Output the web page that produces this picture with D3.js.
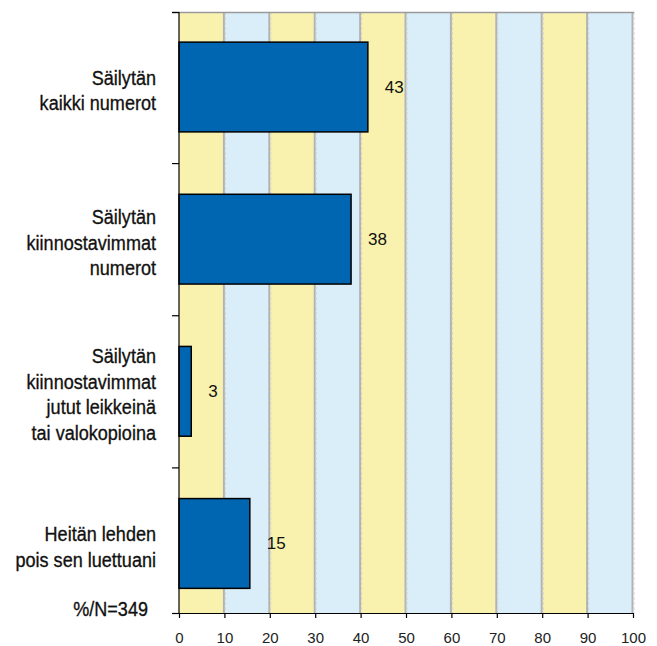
<!DOCTYPE html>
<html>
<head>
<meta charset="utf-8">
<script src="https://cdn.jsdelivr.net/npm/d3@7"></script>
<style>
  html, body { margin: 0; padding: 0; background: #fff; }
  svg { display: block; }
</style>
</head>
<body>
<svg id="chart" width="657" height="646"></svg>
<script>
// ---- data ----
const categories = [
  ["Säilytän", "kaikki numerot"],
  ["Säilytän", "kiinnostavimmat", "numerot"],
  ["Säilytän", "kiinnostavimmat", "jutut leikkeinä", "tai valokopioina"],
  ["Heitän lehden", "pois sen luettuani"]
];
const values = [41.6, 37.9, 2.7, 15.6];
const valueLabels = ["43", "38", "3", "15"];
const xTicks = [0, 10, 20, 30, 40, 50, 60, 70, 80, 90, 100];
const note = "%/N=349";

// ---- layout ----
(function () {
const svg = d3.select("#chart");
const mLeft = 179, mRight = 633, mTop = 12, mBottom = 613;
const x = d3.scaleLinear().domain([0, 100]).range([mLeft, mRight]);
const y = d3.scaleBand().domain(d3.range(categories.length))
  .range([mTop, mBottom]).paddingInner(0.41).paddingOuter(0.18).align(0.55);

const bandColors = ["#f9f2ae", "#d9eef9"];
const g = svg.append("g");

// alternating vertical bands
const bands = d3.range(xTicks.length - 1);
g.selectAll("rect.band").data(bands).enter().append("rect")
  .attr("x", i => x(xTicks[i]))
  .attr("y", mTop)
  .attr("width", i => x(xTicks[i + 1]) - x(xTicks[i]))
  .attr("height", mBottom - mTop)
  .attr("fill", i => bandColors[i % 2]);

// grid lines: solid gray + dashed light line
const gridTicks = xTicks.slice(1);
g.selectAll("line.grid").data(gridTicks).enter().append("line")
  .attr("x1", d => x(d) - 0.5).attr("x2", d => x(d) - 0.5)
  .attr("y1", mTop).attr("y2", mBottom)
  .attr("stroke", "#b3b3b3").attr("stroke-width", 2);
g.selectAll("line.grid2").data(gridTicks).enter().append("line")
  .attr("x1", d => x(d) + 1).attr("x2", d => x(d) + 1)
  .attr("y1", mTop).attr("y2", mBottom)
  .attr("stroke", "#d4d4d4").attr("stroke-width", 1)
  .attr("stroke-dasharray", "3,2");

// top border
g.append("line")
  .attr("x1", mLeft - 7).attr("x2", mRight + 1)
  .attr("y1", mTop + 0.5).attr("y2", mTop + 0.5)
  .attr("stroke", "#9a9a9a").attr("stroke-width", 1.5);

// bars
g.selectAll("rect.bar").data(values).enter().append("rect")
  .attr("x", x(0))
  .attr("y", (d, i) => y(i))
  .attr("width", d => x(d) - x(0))
  .attr("height", y.bandwidth())
  .attr("fill", "#0066b2")
  .attr("stroke", "#000").attr("stroke-width", 1.5);

// value labels
g.selectAll("text.val").data(values).enter().append("text")
  .attr("x", d => x(d) + 17)
  .attr("y", (d, i) => y(i) + y.bandwidth() / 2)
  .attr("dy", "0.35em")
  .attr("font-family", "Liberation Sans, Arial, sans-serif")
  .attr("font-size", 17)
  .attr("fill", "#111")
  .text((d, i) => valueLabels[i]);

// x axis
const xAxis = d3.axisBottom(x).tickValues(xTicks).tickSize(5).tickPadding(14).tickSizeOuter(0);
const ax = svg.append("g").attr("transform", `translate(0,${mBottom})`).call(xAxis);
ax.select(".domain").attr("stroke", "#000").attr("stroke-width", 1.2)
  .attr("d", `M${mLeft - 7},0.5H${mRight + 1}`);
ax.selectAll(".tick line").attr("stroke", "#000").attr("stroke-width", 1.2);
ax.selectAll(".tick text").attr("font-family", "Liberation Sans, Arial, sans-serif")
  .attr("font-size", 15).attr("fill", "#222");

// y axis line with boundary ticks
const yBound = [mTop].concat(d3.range(1, categories.length)
  .map(i => (y(i - 1) + y.bandwidth() + y(i)) / 2)).concat([mBottom]);
svg.append("line")
  .attr("x1", mLeft).attr("x2", mLeft).attr("y1", mTop).attr("y2", mBottom)
  .attr("stroke", "#000").attr("stroke-width", 1.2);
svg.selectAll("line.ytick").data(yBound).enter().append("line")
  .attr("x1", mLeft - 7).attr("x2", mLeft).attr("y1", d => d + 0.5).attr("y2", d => d + 0.5)
  .attr("stroke", "#000").attr("stroke-width", 1.2);

// category labels (condensed look via horizontal scaling)
const lineH = 25.5;
const condense = 0.86;
const catG = svg.selectAll("text.cat").data(categories).enter().append("text")
  .attr("text-anchor", "end")
  .attr("font-family", "Liberation Sans, Arial, sans-serif")
  .attr("font-size", 21)
  .attr("fill", "#111")
  .attr("stroke", "#111").attr("stroke-width", 0.35)
  .attr("transform", (d, i) =>
    `translate(156,${y(i) + y.bandwidth() / 2 + 3 - (d.length - 1) * lineH / 2}) scale(${condense},1)`)
  .attr("dy", "0.35em");
catG.selectAll("tspan").data(d => d).enter().append("tspan")
  .attr("x", 0)
  .attr("dy", (d, j) => j === 0 ? "0.35em" : lineH)
  .text(d => d);

// note
svg.append("text")
  .attr("transform", `translate(148,616) scale(${condense},1)`)
  .attr("text-anchor", "end")
  .attr("font-family", "Liberation Sans, Arial, sans-serif")
  .attr("font-size", 21)
  .attr("fill", "#111")
  .attr("stroke", "#111").attr("stroke-width", 0.35)
  .text(note);
})();
</script>
</body>
</html>
